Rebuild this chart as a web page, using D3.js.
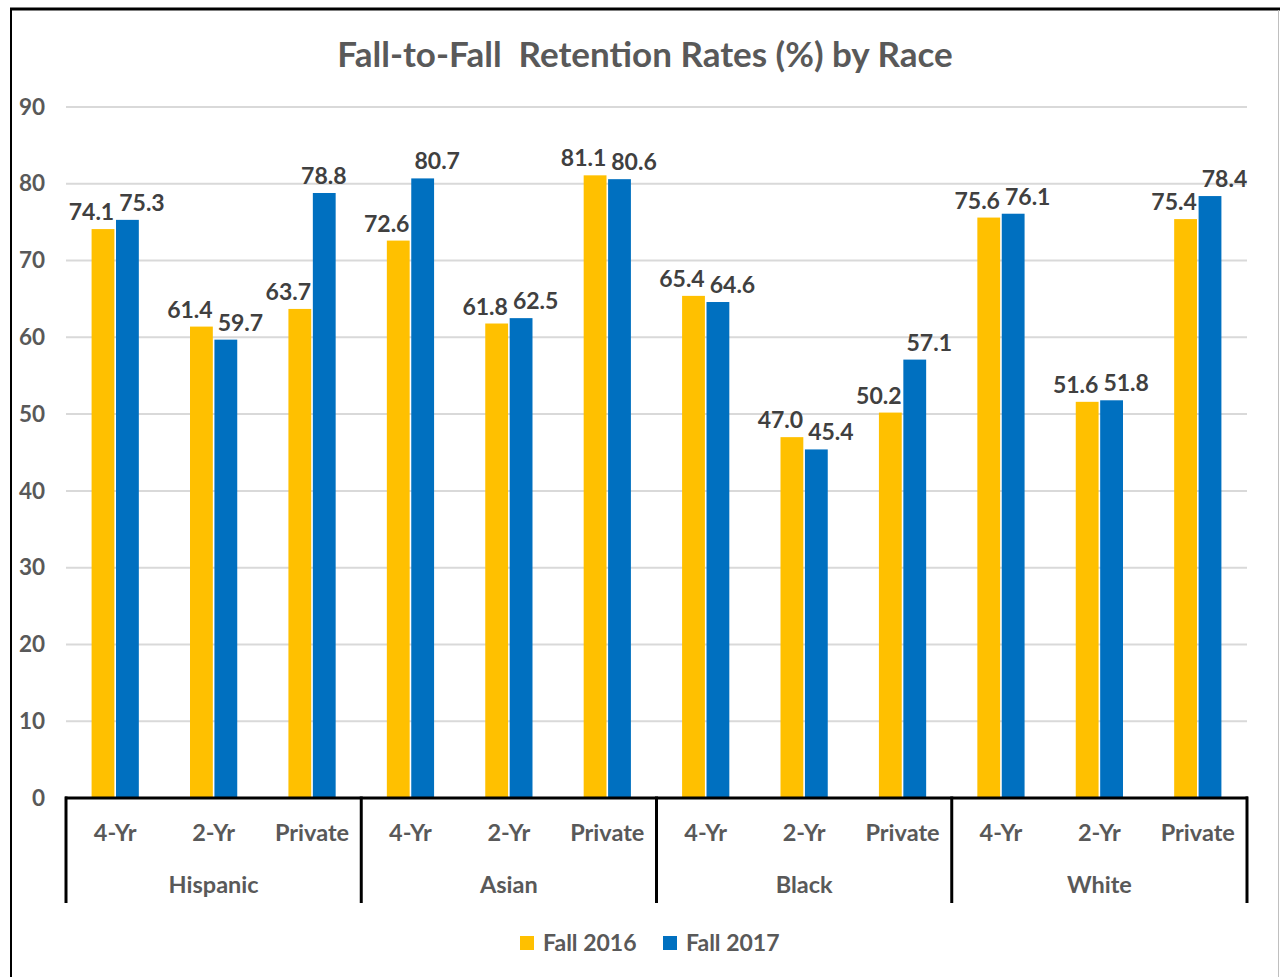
<!DOCTYPE html>
<html><head><meta charset="utf-8">
<script src="https://cdn.jsdelivr.net/npm/d3@7"></script>
<style>
html,body{margin:0;padding:0;background:#fff;}
svg{display:block;font-family:Lato,"Open Sans",sans-serif;font-weight:700;}
</style></head>
<body>
<script>
const groups = ["Hispanic","Asian","Black","White"];
const types = ["4-Yr","2-Yr","Private"];
const seriesNames = ["Fall 2016","Fall 2017"];
const fall2016 = [74.1,61.4,63.7, 72.6,61.8,81.1, 65.4,47.0,50.2, 75.6,51.6,75.4];
const fall2017 = [75.3,59.7,78.8, 80.7,62.5,80.6, 64.6,45.4,57.1, 76.1,51.8,78.4];
const yTicks = [0,10,20,30,40,50,60,70,80,90];
const colors = ["#FFC000","#0070C0"];

const W = 1280, H = 977;
const svg = d3.select("body").append("svg").attr("width",W).attr("height",H);

// frame
svg.append("line").attr("x1",10).attr("x2",W).attr("y1",9).attr("y2",9).attr("stroke","#000").attr("stroke-width",3);
svg.append("line").attr("x1",11).attr("x2",11).attr("y1",8).attr("y2",H).attr("stroke","#000").attr("stroke-width",2);
svg.append("line").attr("x1",1278.5).attr("x2",1278.5).attr("y1",10).attr("y2",H).attr("stroke","#bfbfbf").attr("stroke-width",1);

const x0 = 66, x1 = 1247, yBase = 798, yTop = 107;
const cats = [];
groups.forEach(g => types.forEach(t => cats.push(g + "|" + t)));
const x = d3.scaleBand().domain(cats).range([x0, x1]).paddingInner(0.52).paddingOuter(0.26);
const xs = d3.scaleBand().domain(seriesNames).range([0, x.bandwidth()]).padding(0);
const y = d3.scaleLinear().domain([0,90]).range([yBase, yTop]);

// title
svg.append("text").attr("x",645).attr("y",67).attr("text-anchor","middle")
  .attr("font-size",35).attr("fill","#595959").attr("xml:space","preserve")
  .text("Fall-to-Fall  Retention Rates (%) by Race");

// gridlines
svg.append("g").selectAll("line").data(yTicks.filter(d=>d>0)).join("line")
  .attr("x1",x0).attr("x2",x1).attr("y1",d=>y(d)).attr("y2",d=>y(d))
  .attr("stroke","#d9d9d9").attr("stroke-width",2);

// y labels
const yAxis = d3.axisLeft(y).tickValues(yTicks).tickSize(0).tickPadding(0);
const gy = svg.append("g").attr("transform","translate(45,0)").call(yAxis);
gy.select(".domain").remove();
gy.selectAll("text").attr("font-size",22.5).attr("font-family","Lato").attr("font-weight",700).attr("fill","#595959");

// bars
const data = [];
cats.forEach((c,i) => {
  data.push({cat:c, s:seriesNames[0], v:fall2016[i], i});
  data.push({cat:c, s:seriesNames[1], v:fall2017[i], i});
});
svg.append("g").selectAll("rect").data(data).join("rect")
  .attr("x",d=>x(d.cat)+xs(d.s)+(d.s===seriesNames[1]?0.8:0))
  .attr("width",xs.bandwidth()-0.8)
  .attr("y",d=>y(d.v)).attr("height",d=>y(0)-y(d.v))
  .attr("fill",d=>colors[seriesNames.indexOf(d.s)]);

// data labels
svg.append("g").selectAll("text").data(data).join("text")
  .each(function(d){
    const a = fall2016[d.i], b = fall2017[d.i];
    const bx = x(d.cat)+xs(d.s);
    const el = d3.select(this);
    if (d.s === seriesNames[0]) {
      el.attr("x", bx + xs.bandwidth() - 1).attr("text-anchor","end");
    } else if (b - a > 10) {
      el.attr("x", bx + xs.bandwidth()/2).attr("text-anchor","middle");
    } else {
      el.attr("x", bx + 4).attr("text-anchor","start");
    }
  })
  .attr("y",d=>y(d.v)-9)
  .attr("font-size",23).attr("fill","#404040")
  .text(d=>d.v.toFixed(1));

// category axis
svg.append("line").attr("x1",x0-1).attr("x2",x1+1).attr("y1",yBase).attr("y2",yBase).attr("stroke","#000").attr("stroke-width",3);
const gStep = (x1-x0)/groups.length;
svg.append("g").selectAll("line").data(d3.range(groups.length+1)).join("line")
  .attr("x1",i=>x0+i*gStep).attr("x2",i=>x0+i*gStep)
  .attr("y1",yBase-1.5).attr("y2",903).attr("stroke","#000").attr("stroke-width",3);

svg.append("g").selectAll("text").data(cats).join("text")
  .attr("x",d=>x(d)+x.bandwidth()/2).attr("y",841).attr("text-anchor","middle")
  .attr("font-size",23.5).attr("fill","#595959").text(d=>d.split("|")[1]);

svg.append("g").selectAll("text").data(groups).join("text")
  .attr("x",(d,i)=>x0+(i+0.5)*gStep).attr("y",893).attr("text-anchor","middle")
  .attr("font-size",23.5).attr("fill","#595959").text(d=>d);

// legend
const leg = svg.append("g");
const legX = [520, 663];
seriesNames.forEach((s,i)=>{
  leg.append("rect").attr("x",legX[i]).attr("y",936).attr("width",14).attr("height",14).attr("fill",colors[i]);
  leg.append("text").attr("x",legX[i]+23).attr("y",951).attr("font-size",23).attr("fill","#595959").text(s);
});
</script>
</body></html>
